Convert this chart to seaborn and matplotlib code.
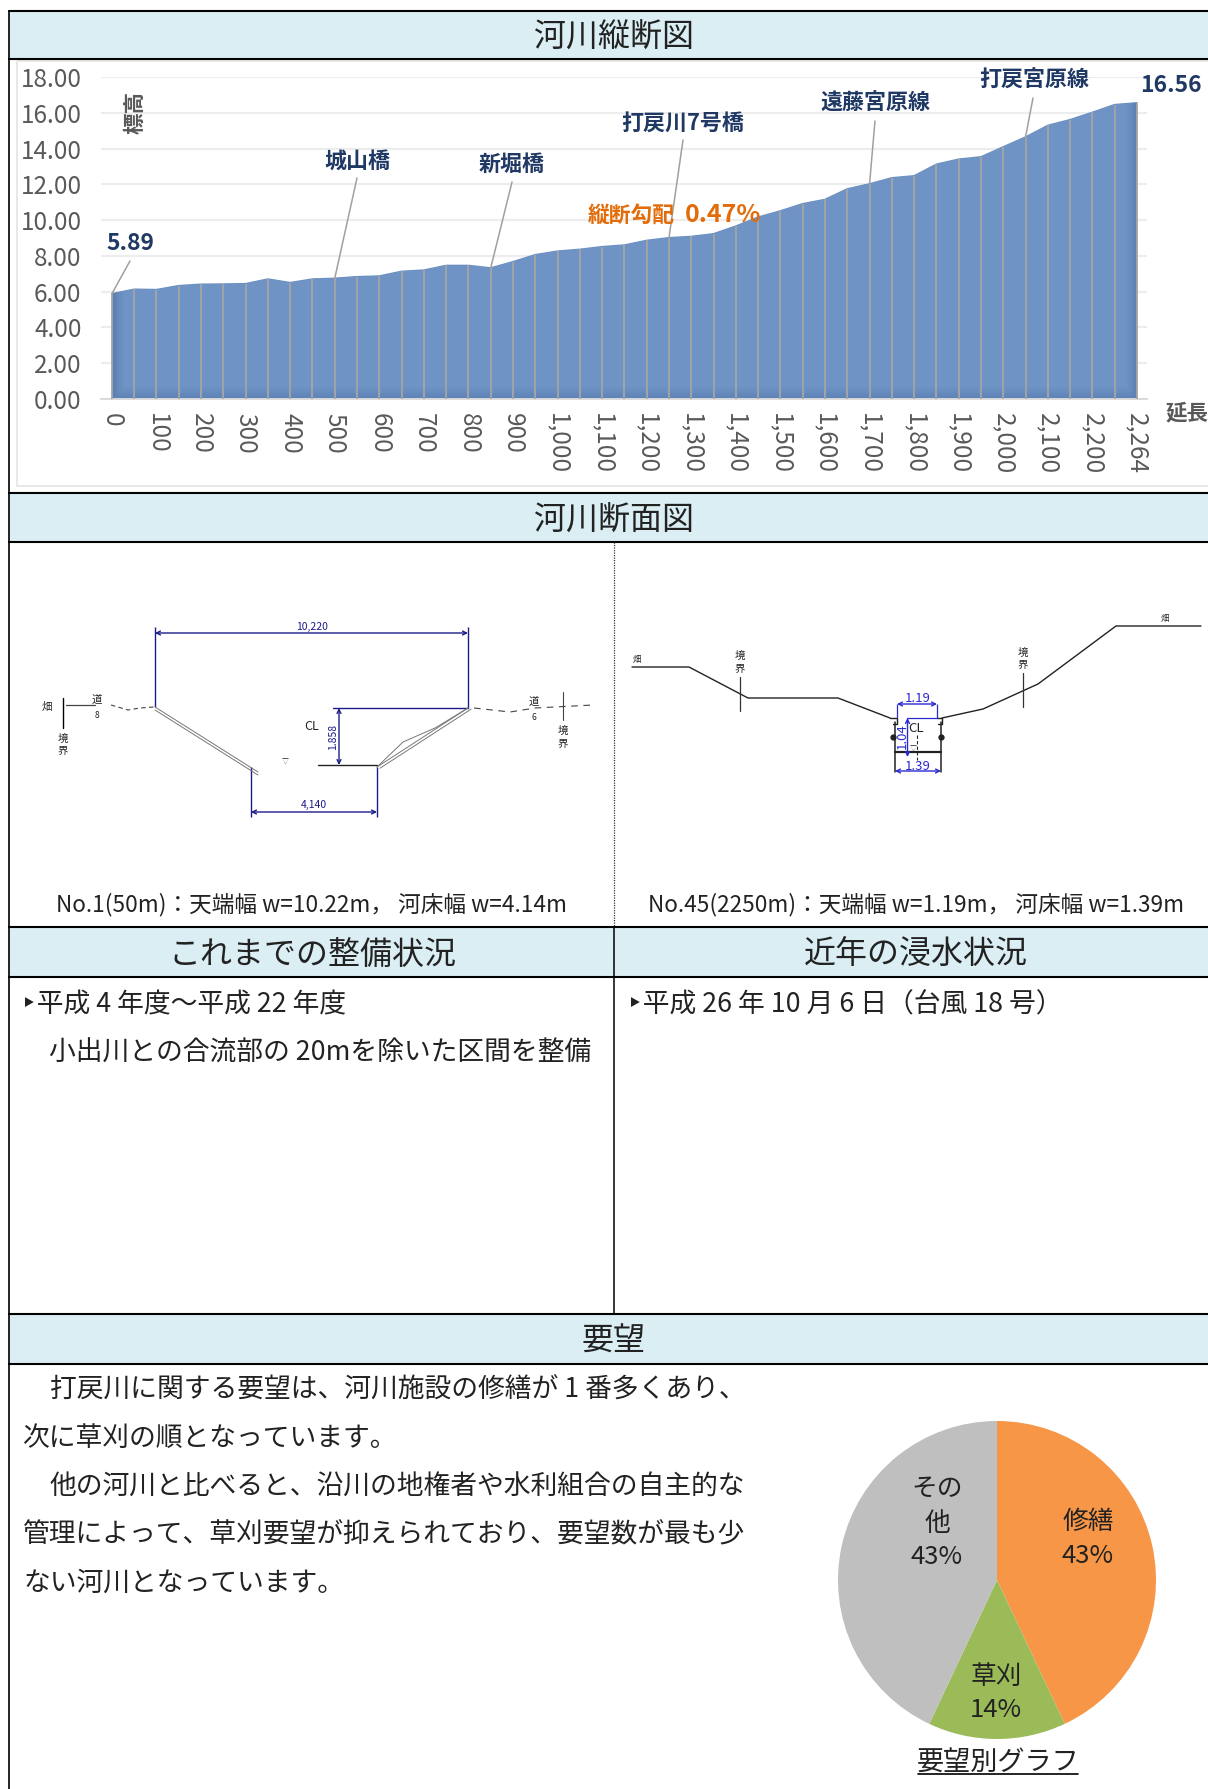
import numpy as np
import seaborn as sns
import matplotlib
matplotlib.use('Agg')
import matplotlib.pyplot as plt
from matplotlib.patches import Rectangle, Polygon

sns.set_theme(style='white')
plt.rcParams['font.family'] = ['Noto Sans CJK JP', 'DejaVu Sans']

W, H = 1208, 1789

# longitudinal profile, one value per 50 m station (last station is 2,264)
stations = [str(f'{d:,}') for d in range(0, 2300, 50)] + ['2,264']
elevation = [5.89, 6.14, 6.12, 6.34, 6.42, 6.43, 6.45, 6.71, 6.51, 6.71,
             6.75, 6.84, 6.88, 7.14, 7.21, 7.47, 7.47, 7.33, 7.68, 8.07,
             8.27, 8.37, 8.52, 8.61, 8.87, 9.02, 9.09, 9.24, 9.67, 10.17,
             10.52, 10.92, 11.16, 11.75, 12.03, 12.37, 12.48, 13.13, 13.41, 13.54,
             14.10, 14.65, 15.30, 15.62, 16.03, 16.46, 16.56]
y_ticks = [0, 2, 4, 6, 8, 10, 12, 14, 16, 18]

# name, station index, label position, leader top (pixels)
bridges = [('城山橋', 10, (357, 161), (357, 178)),
           ('新堀橋', 17, (512, 164), (512, 182)),
           ('打戻川7号橋', 25, (683, 123), (683, 140)),
           ('遠藤宮原線', 34, (875, 103), (875, 121)),
           ('打戻宮原線', 41, (1034, 80), (1033, 98))]

# pie
pie_names = ['修繕', '草刈', 'その他']
pie_values = [43, 14, 43]
pie_colors = ['#F79646', '#9BBB59', '#BFBFBF']

# cross section No.1 (pixels)
sec1_left_bank = [(155, 707), (258, 772)]
sec1_right_bank = [(468, 708), (377, 767)]
sec1_right_lens = [(377, 767), (403, 742), (435, 728), (468, 708)]
sec1_left_ground = [(111, 705), (128, 710), (140, 708), (154, 707)]
sec1_right_ground = [(474, 708), (510, 712), (535, 708), (593, 705)]

# cross section No.45 (pixels)
sec2_left = [(632, 667), (689, 667), (748, 698), (838, 698), (890, 718)]
sec2_right = [(942, 718), (983, 709), (1038, 684), (1116, 626), (1201, 626)]

headers = [('河川縦断図', 614, 11, 59, 9, W), ('河川断面図', 614, 493, 542, 9, W),
           ('これまでの整備状況', 312, 927, 977, 9, 614), ('近年の浸水状況', 916, 927, 977, 614, W),
           ('要望', 614, 1314, 1364, 9, W)]

body_lines = [('打戻川に関する要望は、河川施設の修繕が 1 番多くあり、', 50, 1390),
              ('次に草刈の順となっています。', 23, 1438),
              ('他の河川と比べると、沿川の地権者や水利組合の自主的な', 50, 1487),
              ('管理によって、草刈要望が抑えられており、要望数が最も少', 23, 1535),
              ('ない河川となっています。', 23, 1583)]

fig = plt.figure(figsize=(W / 100, H / 100), dpi=100, facecolor='white')

# pixel overlay for the table frame and the drawings
ov = fig.add_axes([0, 0, 1, 1], zorder=1)
ov.set_xlim(0, W)
ov.set_ylim(H, 0)
ov.axis('off')

for txt, xc, y0, y1, x0, x1 in headers:
    ov.add_patch(Rectangle((x0, y0), x1 - x0, y1 - y0, fc='#DAEEF3', ec='none'))
    ov.text(xc, (y0 + y1) / 2 + 3, txt, ha='center', va='center', fontsize=23, color='#222222')
for y in [11, 59, 493, 542, 927, 977, 1314, 1364]:
    ov.plot([9, W], [y, y], color='black', lw=1.5)
ov.plot([9, 9], [11, H], color='black', lw=1.2)
ov.plot([614, 614], [542, 927], color='#333333', lw=0.9, ls=(0, (1, 1)))
ov.plot([614, 614], [927, 1314], color='black', lw=1.1)

ov.add_patch(Rectangle((17, 61), 1208, 425, fc='none', ec='#e4e4e4', lw=1.2))

# chart
ax = fig.add_axes([101 / W, 1 - 399 / H, (1147 - 101) / W, (399 - 77) / H], zorder=2)
ax.patch.set_alpha(0)
idx = np.arange(len(stations))
sns.lineplot(x=idx, y=elevation, ax=ax, color='#6A8FC0', lw=1.0)

gx = np.linspace(0, 1, 200)
gy = np.linspace(0, 1, 200)
edge = np.minimum(np.minimum(gx, 1 - gx)[None, :] * 120, gy[:, None] * 25).clip(0, 1)
c_in, c_out = np.array([0.435, 0.58, 0.77]), np.array([0.37, 0.51, 0.71])
grad = c_out + (c_in - c_out) * edge[..., None]
im = ax.imshow(grad, origin='lower', extent=(0, len(idx) - 1, 0, max(elevation)), aspect='auto', zorder=2)
im.set_clip_path(Polygon([(0, 0)] + list(zip(idx, elevation)) + [(idx[-1], 0)], transform=ax.transData))
ax.vlines(idx, 0, elevation, color='#A5A5A5', lw=1.3, zorder=3)

ax.set_xlim(-0.49, 46.45)
ax.set_ylim(0, 18)
ax.set_yticks(y_ticks)
ax.set_yticklabels([f'{v:.2f}' for v in y_ticks], fontsize=17.5, color='#595959')
ax.set_xticks(idx[::2].tolist())
ax.set_xticklabels(stations[::2], rotation=-90, fontsize=17.5, color='#595959', ha='center', va='top')
ax.tick_params(axis='y', length=0, pad=14)
ax.tick_params(axis='x', length=0, pad=10)
ax.yaxis.grid(True, color='#EDEDED', lw=1.6)
ax.set_axisbelow(True)
sns.despine(ax=ax, left=True, top=True, right=True, bottom=False)
ax.spines['bottom'].set_color('#D9D9D9')
ax.spines['bottom'].set_linewidth(1.4)

navy = '#1F3864'
for name, i, pos, top_pt in bridges:
    ax.annotate('', xy=(i, elevation[i]), xytext=top_pt, textcoords=ov.transData,
                arrowprops=dict(arrowstyle='-', color='#A0A0A0', lw=1.1, shrinkA=0, shrinkB=0), zorder=4)
    ax.annotate(name, xy=pos, xycoords=ov.transData, ha='center', va='center', fontsize=15.8,
                fontweight='bold', color=navy, zorder=5)
ax.annotate('', xy=(0, elevation[0]), xytext=(130, 261), textcoords=ov.transData,
            arrowprops=dict(arrowstyle='-', color='#A0A0A0', lw=1.1, shrinkA=0, shrinkB=0), zorder=4)
ax.annotate(f'{elevation[0]:.2f}', xy=(130, 243), xycoords=ov.transData, ha='center', va='center',
            fontsize=16.5, fontweight='bold', color=navy)
ax.annotate(f'{elevation[-1]:.2f}', xy=(1171, 85), xycoords=ov.transData, ha='center', va='center',
            fontsize=16.5, fontweight='bold', color=navy, annotation_clip=False)
ax.annotate('縦断勾配', xy=(631, 215), xycoords=ov.transData, ha='center', va='center',
            fontsize=15.7, fontweight='bold', color='#E36C0A', zorder=5)
ax.annotate('0.47%', xy=(723, 215), xycoords=ov.transData, ha='center', va='center',
            fontsize=18, fontweight='bold', color='#E36C0A', zorder=5)
ax.annotate('標高', xy=(135, 113), xycoords=ov.transData, ha='center', va='center', rotation=90,
            fontsize=15.5, fontweight='bold', color='#595959')
ax.annotate('延長', xy=(1187, 413), xycoords=ov.transData, ha='center', va='center',
            fontsize=15.5, fontweight='bold', color='#595959', annotation_clip=False)


def dim_arrow(p0, p1, color):
    ov.annotate('', xy=p1, xytext=p0, arrowprops=dict(arrowstyle='<->', color=color, lw=1.0,
                                                      shrinkA=0, shrinkB=0, mutation_scale=7))


def small(x, y, s, color='#222222', size=7.5, **kw):
    ov.text(x, y, s, ha='center', va='center', fontsize=size, color=color, **kw)


def poly(points, **kw):
    xs, ys = zip(*points)
    ov.plot(xs, ys, **kw)


# section No.1
blue1 = '#1B1B8A'
dim_arrow((155, 633), (468, 633), blue1)
ov.vlines([155, 468], [627, 627], [707, 708], color=blue1, lw=1.0)
small(312, 627, '10,220', blue1, 7.5)
dim_arrow((251, 812), (377, 812), blue1)
ov.vlines([251, 377], [767, 767], [817, 817], color=blue1, lw=1.0)
small(314, 805, '4,140', blue1, 7.5)
ov.plot([333, 468], [708, 708], color=blue1, lw=1.0)
dim_arrow((339, 708), (339, 765), blue1)
small(333, 737, '1.858', blue1, 7.5, rotation=90)
ov.plot([318, 377], [765, 765], color='#222222', lw=1.0)
for off in [0, 3]:
    poly([(p[0], p[1] + off) for p in sec1_left_bank], color='#777777', lw=0.7)
    poly([(p[0] + off, p[1] + off * 0.4) for p in sec1_right_bank], color='#777777', lw=0.7)
poly(sec1_right_lens, color='#777777', lw=0.7)
poly(sec1_left_ground, color='#444444', lw=0.8, ls=(0, (4, 3)))
poly(sec1_right_ground, color='#444444', lw=0.8, ls=(0, (6, 5)))
ov.plot([63, 63], [698, 728], color='black', lw=1.0)
ov.plot([66, 95], [705, 705], color='#444444', lw=0.9)
ov.plot([563, 563], [692, 720], color='#444444', lw=0.8)
small(47, 707, '畑')
small(97, 700, '道')
small(97, 716, '8', size=6)
small(63, 739, '境')
small(63, 751, '界')
small(534, 702, '道')
small(534, 717, '6', size=6)
small(563, 731, '境')
small(563, 744, '界')
small(312, 727, 'CL', size=9)
small(285, 763, '▽', size=5)
ov.text(311, 905, 'No.1(50m)：天端幅 w=10.22m， 河床幅 w=4.14m', ha='center', va='center', fontsize=16.3, color='#222222')

# section No.45
blue2 = '#2A2AD0'
poly(sec2_left, color='#222222', lw=1.0)
poly(sec2_right, color='#222222', lw=1.0)
ov.plot([895, 895], [722, 772], color='#222222', lw=1.1)
ov.plot([941, 941], [722, 772], color='#222222', lw=1.1)
ov.plot([890, 897, 897, 893], [718, 718, 724, 724], color='#222222', lw=1.0)
ov.plot([937, 942, 942, 938], [718, 718, 724, 724], color='#222222', lw=1.0)
ov.plot([895, 941], [752, 752], color='#222222', lw=1.6)
ov.plot([893, 941], [737, 737], ls='none', marker='o', ms=3.5, color='#222222')
dim_arrow((897, 704), (937, 704), blue2)
ov.vlines([897, 937], [704, 704], [718, 718], color=blue2, lw=0.9)
ov.plot([907, 937], [718, 718], color=blue2, lw=0.9)
dim_arrow((895, 771), (941, 771), blue2)
dim_arrow((907.5, 718), (907.5, 757), blue2)
small(918, 699, '1.19', blue2, 9.5)
small(918, 766, '1.39', blue2, 9.5)
small(902, 736, '1.04', blue2, 9.5, rotation=90)
small(916, 729, 'CL', size=9.5)
ov.plot([917, 917], [735, 760], color='#222222', lw=0.8, ls=(0, (3, 2)))
small(913, 750, '▽', size=5)
ov.plot([740, 740], [677, 711], color='#333333', lw=0.9)
ov.plot([1023, 1023], [673, 707], color='#333333', lw=0.9)
small(740, 656, '境')
small(740, 669, '界')
small(1023, 653, '境')
small(1023, 665, '界')
small(637, 659, '畑', size=6)
small(1165, 618, '畑', size=6)
ov.text(916, 905, 'No.45(2250m)：天端幅 w=1.19m， 河床幅 w=1.39m', ha='center', va='center', fontsize=16.3, color='#222222')

# text blocks
body = dict(ha='left', va='center', fontsize=19.3, color='#222222')
ov.text(21, 1005, '‣平成 4 年度～平成 22 年度', **body)
ov.text(49, 1053, '小出川との合流部の 20mを除いた区間を整備', **body)
ov.text(627, 1005, '‣平成 26 年 10 月 6 日（台風 18 号）', **body)
for txt, x, y in body_lines:
    ov.text(x, y, txt, **body)

# pie
pie_ax = fig.add_axes([838 / W, 1 - 1739 / H, 318 / W, 318 / H], zorder=2)
pie_ax.pie(pie_values, colors=pie_colors, startangle=90, counterclock=False, radius=1,
           wedgeprops=dict(lw=0))
pie_ax.set_xlim(-1, 1)
pie_ax.set_ylim(-1, 1)

pie_label = dict(ha='center', va='center', fontsize=18.5, color='#222222', zorder=5)
top = fig.add_axes([0, 0, 1, 1], zorder=3)
top.set_xlim(0, W)
top.set_ylim(H, 0)
top.axis('off')
top.text(1088, 1522, pie_names[0], **pie_label)
top.text(1088, 1556, f'{pie_values[0]}%', **pie_label)
top.text(996, 1677, pie_names[1], **pie_label)
top.text(996, 1710, f'{pie_values[1]}%', **pie_label)
top.text(937, 1489, pie_names[2][:2], **pie_label)
top.text(937, 1524, pie_names[2][2:], **pie_label)
top.text(937, 1557, f'{pie_values[2]}%', **pie_label)
top.text(998, 1762, '要望別グラフ', ha='center', va='center', fontsize=19.5, color='#222222')
top.plot([918, 1078], [1774, 1774], color='black', lw=1.2)

fig.savefig('out.png', dpi=100)
